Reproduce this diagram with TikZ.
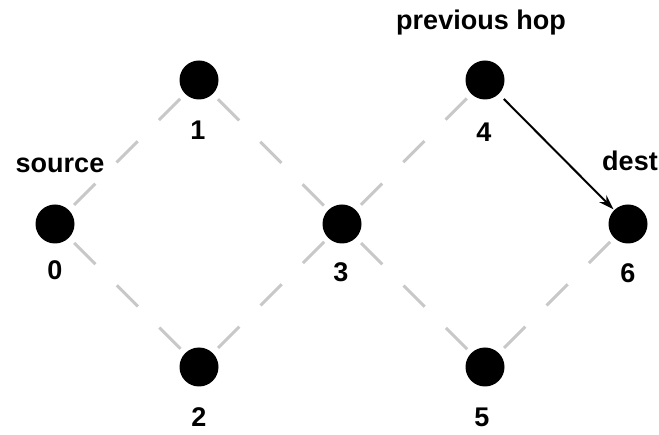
\documentclass[tikz,border=0pt]{standalone}
\usepackage{fontspec}
\setmainfont{Liberation Sans}
\usetikzlibrary{arrows.meta}
\definecolor{edgegray}{RGB}{200,200,200}
\tikzset{
  vertex/.style={circle,fill=black,minimum size=39pt,inner sep=0pt},
  lbl/.style={anchor=base,inner sep=0pt,font=\fontsize{27}{32}\selectfont\bfseries},
  link/.style={draw=edgegray,line width=3pt,dash pattern=on 30pt off 30pt,dash phase=33pt},
  hop/.style={draw=black,line width=2pt,-{Stealth[length=15pt,width=10pt]},shorten <=7pt,shorten >=1pt}
}
\begin{document}
\begin{tikzpicture}[x=1pt,y=-1pt]
\useasboundingbox (0,0) rectangle (659,435);
\coordinate (c0) at (55,224);
\coordinate (c1) at (199,80);
\coordinate (c2) at (199,367);
\coordinate (c3) at (342,224);
\coordinate (c4) at (485,80);
\coordinate (c5) at (485,367);
\coordinate (c6) at (628,224);
\draw[link] (c0) -- (c1);
\draw[link] (c0) -- (c2);
\draw[link] (c1) -- (c3);
\draw[link] (c2) -- (c3);
\draw[link] (c3) -- (c4);
\draw[link] (c3) -- (c5);
\draw[link] (c5) -- (c6);
\node[vertex] (n0) at (c0) {};
\node[vertex] (n1) at (c1) {};
\node[vertex] (n2) at (c2) {};
\node[vertex] (n3) at (c3) {};
\node[vertex] (n4) at (c4) {};
\node[vertex] (n5) at (c5) {};
\node[vertex] (n6) at (c6) {};
\draw[hop] (n4) -- (n6);
\node[lbl] (l0) at (55,280) {0};
\node[lbl] (l1) at (198,140) {1};
\node[lbl] (l2) at (199,427) {2};
\node[lbl] (l3) at (341,282) {3};
\node[lbl] (l4) at (484,142) {4};
\node[lbl] (l5) at (482,427) {5};
\node[lbl] (l6) at (628,283) {6};
\node[lbl] (src) at (60,173) {source};
\node[lbl] (prev) at (481,30) {previous hop};
\node[lbl] (dst) at (630,171) {dest};
\end{tikzpicture}
\end{document}
